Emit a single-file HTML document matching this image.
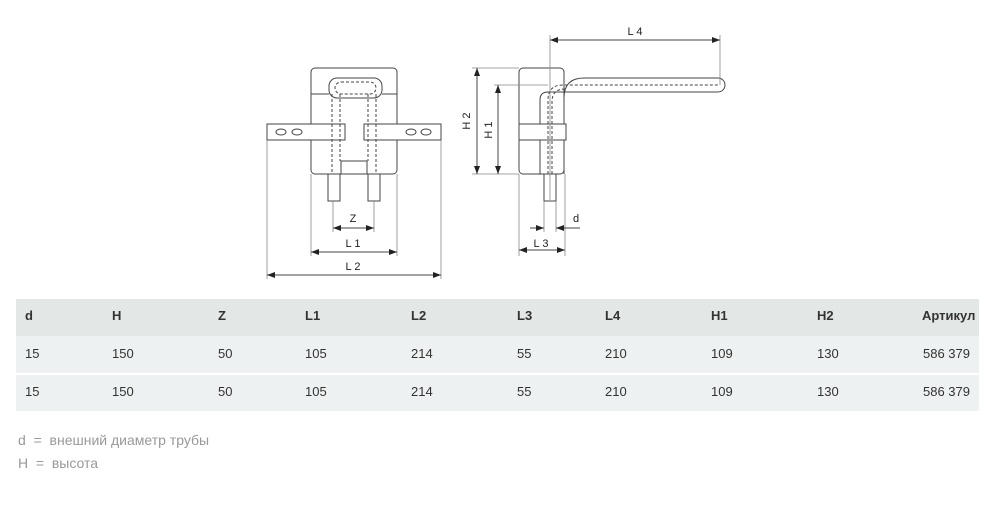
<!DOCTYPE html>
<html><head><meta charset="utf-8"><style>
body{margin:0;width:1000px;height:507px;background:#fff;position:relative;overflow:hidden;font-family:"Liberation Sans",sans-serif}
.t{position:absolute;font-size:13px;color:#333;white-space:nowrap}
.b{font-weight:bold;color:#333}
.n{position:absolute;font-size:14px;color:#999;white-space:nowrap}
</style></head><body>
<svg width="1000" height="507" style="position:absolute;left:0;top:0" font-family="Liberation Sans, sans-serif">
<defs><marker id="a" markerWidth="8" markerHeight="6" refX="8" refY="3" orient="auto-start-reverse" markerUnits="userSpaceOnUse"><path d="M0,0L8,3L0,6z" fill="#222"/></marker></defs>
<g fill="none" stroke="#444" stroke-width="1">
<rect x="311" y="68" width="86" height="106" rx="4" fill="#fff"/>
<line x1="311" y1="94" x2="329" y2="94"/><line x1="382" y1="94" x2="397" y2="94"/>
<rect x="329" y="78" width="53" height="20" rx="8"/>
<rect x="335" y="82" width="41" height="12" rx="6" stroke-dasharray="3,2"/>
<rect x="267" y="124" width="78" height="16" fill="#fff"/>
<rect x="364" y="124" width="77" height="16" fill="#fff"/>
<ellipse cx="281" cy="132" rx="5" ry="3"/><ellipse cx="297" cy="132" rx="5" ry="3"/>
<ellipse cx="411" cy="132" rx="5" ry="3"/><ellipse cx="426" cy="132" rx="5" ry="3"/>
<path d="M341,174V161H367V174"/>
<rect x="328" y="174" width="12" height="27"/><rect x="368" y="174" width="12" height="27"/>
<g stroke-dasharray="3,2"><line x1="332" y1="94" x2="332" y2="174"/><line x1="340" y1="94" x2="340" y2="161"/><line x1="368" y1="94" x2="368" y2="161"/><line x1="376" y1="94" x2="376" y2="174"/></g>
<g stroke="#888" stroke-width="0.8"><line x1="333" y1="201" x2="333" y2="232"/><line x1="374" y1="201" x2="374" y2="232"/>
<line x1="311" y1="174" x2="311" y2="256"/><line x1="397" y1="174" x2="397" y2="256"/>
<line x1="267" y1="140" x2="267" y2="279"/><line x1="441" y1="140" x2="441" y2="279"/></g>
<line x1="333" y1="228" x2="374" y2="228" marker-start="url(#a)" marker-end="url(#a)"/>
<line x1="311" y1="252" x2="397" y2="252" marker-start="url(#a)" marker-end="url(#a)"/>
<line x1="267" y1="275" x2="441" y2="275" marker-start="url(#a)" marker-end="url(#a)"/>
<rect x="519" y="68" width="45" height="106" rx="4" fill="#fff"/>
<path d="M540,174V100Q540,92 548,92H565M564,174V98Q564,78 584,78H718M565,92H718"/>
<path d="M718,78A7,7 0 0 1 718,92" />
<rect x="519" y="124" width="47" height="16" fill="#fff"/>
<rect x="544" y="174" width="12" height="27"/>
<g stroke-dasharray="3,2"><path d="M548,174V100Q548,85 563,85H718"/><path d="M552,174V102Q552,89 565,89"/></g>
<g stroke="#888" stroke-width="0.8"><line x1="550" y1="35" x2="550" y2="200"/><line x1="720" y1="35" x2="720" y2="85"/>
<line x1="472" y1="68" x2="519" y2="68"/><line x1="472" y1="174" x2="519" y2="174"/><line x1="494" y1="85" x2="548" y2="85"/>
<line x1="544" y1="201" x2="544" y2="232"/><line x1="556" y1="201" x2="556" y2="232"/>
<line x1="519" y1="174" x2="519" y2="256"/><line x1="565" y1="174" x2="565" y2="256"/></g>
<line x1="550" y1="40" x2="720" y2="40" marker-start="url(#a)" marker-end="url(#a)"/>
<line x1="477" y1="68" x2="477" y2="174" marker-start="url(#a)" marker-end="url(#a)"/>
<line x1="498" y1="85" x2="498" y2="174" marker-start="url(#a)" marker-end="url(#a)"/>
<line x1="519" y1="250" x2="565" y2="250" marker-start="url(#a)" marker-end="url(#a)"/>
<line x1="530" y1="228" x2="544" y2="228" marker-end="url(#a)"/>
<line x1="580" y1="228" x2="556" y2="228" marker-end="url(#a)"/>
</g>
<g fill="#222" font-size="11" text-anchor="middle">
<text x="353" y="222">Z</text><text x="353" y="247">L 1</text><text x="353" y="270">L 2</text>
<text x="635" y="35">L 4</text><text x="541" y="247">L 3</text><text x="576" y="222">d</text>
<text transform="translate(470,121) rotate(-90)">H 2</text>
<text transform="translate(492,130) rotate(-90)">H 1</text>
</g>
<rect x="16" y="299" width="963" height="37" fill="#e3e7e6"/>
<rect x="16" y="336" width="963" height="37" fill="#eef1f1"/>
<rect x="16" y="375" width="963" height="36" fill="#eef1f1"/>
</svg>
<div class="t b" style="left:25px;top:308px">d</div><div class="t b" style="left:112px;top:308px">H</div><div class="t b" style="left:218px;top:308px">Z</div><div class="t b" style="left:305px;top:308px">L1</div><div class="t b" style="left:411px;top:308px">L2</div><div class="t b" style="left:517px;top:308px">L3</div><div class="t b" style="left:605px;top:308px">L4</div><div class="t b" style="left:711px;top:308px">H1</div><div class="t b" style="left:817px;top:308px">H2</div><div class="t b" style="left:922px;top:308px">Артикул</div>
<div class="t" style="left:25px;top:346px">15</div><div class="t" style="left:112px;top:346px">150</div><div class="t" style="left:218px;top:346px">50</div><div class="t" style="left:305px;top:346px">105</div><div class="t" style="left:411px;top:346px">214</div><div class="t" style="left:517px;top:346px">55</div><div class="t" style="left:605px;top:346px">210</div><div class="t" style="left:711px;top:346px">109</div><div class="t" style="left:817px;top:346px">130</div><div class="t" style="left:923px;top:346px">586 379</div>
<div class="t" style="left:25px;top:384px">15</div><div class="t" style="left:112px;top:384px">150</div><div class="t" style="left:218px;top:384px">50</div><div class="t" style="left:305px;top:384px">105</div><div class="t" style="left:411px;top:384px">214</div><div class="t" style="left:517px;top:384px">55</div><div class="t" style="left:605px;top:384px">210</div><div class="t" style="left:711px;top:384px">109</div><div class="t" style="left:817px;top:384px">130</div><div class="t" style="left:923px;top:384px">586 379</div>
<div class="n" style="left:18px;top:432px">d &nbsp;= &nbsp;внешний диаметр трубы</div>
<div class="n" style="left:18px;top:455px">H &nbsp;= &nbsp;высота</div>
</body></html>
